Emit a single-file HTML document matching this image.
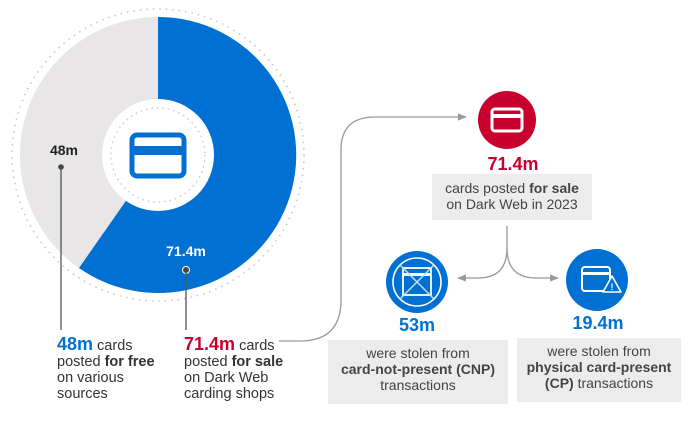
<!DOCTYPE html>
<html><head><meta charset="utf-8"><style>
html,body{margin:0;padding:0;background:#fff;}
svg{display:block;}
text{font-family:"Liberation Sans",sans-serif;}
</style></head><body>
<svg width="693" height="439" viewBox="0 0 693 439" xmlns="http://www.w3.org/2000/svg">
<defs>
<marker id="ar" viewBox="0 0 10 10" refX="9" refY="5" markerWidth="7" markerHeight="7" orient="auto"><path d="M0,1 L10,5 L0,9 z" fill="#999"/></marker>
</defs>
<circle cx="158" cy="155" r="146" fill="none" stroke="#c8c8c8" stroke-width="1.6" stroke-dasharray="1.5 5"/>
<circle cx="158" cy="155" r="138" fill="#e8e6e7"/>
<path d="M158,155 L158,17 A138,138 0 1 1 79,268 Z" fill="#0070d2"/>
<circle cx="158" cy="155" r="56" fill="#fff"/>
<circle cx="158" cy="155" r="47" fill="none" stroke="#c8c8c8" stroke-width="1.4" stroke-dasharray="1.5 4"/>
<rect x="132" y="135" width="52" height="41" rx="5" fill="#fff" stroke="#0070d2" stroke-width="5"/>
<rect x="132" y="146" width="52" height="9" fill="#0070d2"/>
<text x="64" y="155" font-size="14" font-weight="bold" fill="#222" text-anchor="middle">48m</text>
<circle cx="61" cy="167" r="2.8" fill="#444"/>
<line x1="61" y1="167" x2="61" y2="330" stroke="#555" stroke-width="1.3"/>
<text x="186" y="256" font-size="14" font-weight="bold" fill="#fff" text-anchor="middle">71.4m</text>
<circle cx="186" cy="270" r="3.5" fill="#444" stroke="#fff" stroke-width="1"/>
<line x1="186" y1="272" x2="186" y2="330" stroke="#555" stroke-width="1.3"/>
<g font-size="14.5" fill="#333">
<text x="57" y="350"><tspan font-size="18" font-weight="bold" fill="#0070d2">48m</tspan> cards</text>
<text x="57" y="366">posted <tspan font-weight="bold">for free</tspan></text>
<text x="57" y="382">on various</text>
<text x="57" y="398">sources</text>
<text x="184" y="350"><tspan font-size="18" font-weight="bold" fill="#c8002e">71.4m</tspan> cards</text>
<text x="184" y="366">posted <tspan font-weight="bold">for sale</tspan></text>
<text x="184" y="382">on Dark Web</text>
<text x="184" y="398">carding shops</text>
</g>
<path d="M279,341 L300,341 Q341,341 341,300 L341,150 Q341,117 375,117 L466,117" fill="none" stroke="#999" stroke-width="1.3" marker-end="url(#ar)"/>
<circle cx="507" cy="120" r="29" fill="#c8002e"/>
<rect x="492" y="109" width="30" height="22" rx="3" fill="none" stroke="#fff" stroke-width="3"/>
<rect x="492" y="114" width="30" height="4" fill="#fff"/>
<text x="513" y="170" font-size="18" font-weight="bold" fill="#c8002e" text-anchor="middle">71.4m</text>
<rect x="432" y="174" width="160" height="46" fill="#ececec"/>
<g font-size="14" fill="#444" text-anchor="middle">
<text x="512" y="193">cards posted <tspan font-weight="bold">for sale</tspan></text>
<text x="512" y="209">on Dark Web in 2023</text>
</g>
<path d="M507,226 L507,248 Q507,278 478,278 L458,278" fill="none" stroke="#999" stroke-width="1.3" marker-end="url(#ar)"/>
<path d="M507,248 Q507,278 536,278 L558,278" fill="none" stroke="#999" stroke-width="1.3" marker-end="url(#ar)"/>
<circle cx="417" cy="282" r="31" fill="#0070d2"/>
<circle cx="417" cy="282" r="24" fill="none" stroke="#fff" stroke-width="1.6"/>
<rect x="403" y="268" width="28" height="27" fill="none" stroke="#fff" stroke-width="1.8"/>
<rect x="403" y="273" width="28" height="3" fill="#fff"/>
<line x1="400" y1="265" x2="434" y2="299" stroke="#cde" stroke-width="1.5"/>
<line x1="434" y1="265" x2="400" y2="299" stroke="#cde" stroke-width="1.5"/>
<text x="417" y="331" font-size="18" font-weight="bold" fill="#0070d2" text-anchor="middle">53m</text>
<rect x="328" y="340" width="180" height="64" fill="#ececec"/>
<g font-size="14" fill="#444" text-anchor="middle">
<text x="418" y="358">were stolen from</text>
<text x="418" y="374" font-weight="bold">card-not-present (CNP)</text>
<text x="418" y="390">transactions</text>
</g>
<circle cx="597" cy="280" r="31" fill="#0070d2"/>
<rect x="582" y="267" width="28" height="24" rx="3" fill="none" stroke="#fff" stroke-width="2"/>
<rect x="582" y="272" width="28" height="3" fill="#fff"/>
<path d="M603,292 L612,276 L621,292 Z" fill="#0070d2" stroke="#fff" stroke-width="1.6" stroke-linejoin="round"/>
<text x="612" y="290" font-size="9" font-weight="bold" fill="#fff" text-anchor="middle">!</text>
<text x="598" y="329" font-size="18" font-weight="bold" fill="#0070d2" text-anchor="middle">19.4m</text>
<rect x="517" y="338" width="164" height="64" fill="#ececec"/>
<g font-size="14" fill="#444" text-anchor="middle">
<text x="599" y="356">were stolen from</text>
<text x="599" y="372" font-weight="bold">physical card-present</text>
<text x="599" y="388"><tspan font-weight="bold">(CP)</tspan> transactions</text>
</g>
</svg>
</body></html>
